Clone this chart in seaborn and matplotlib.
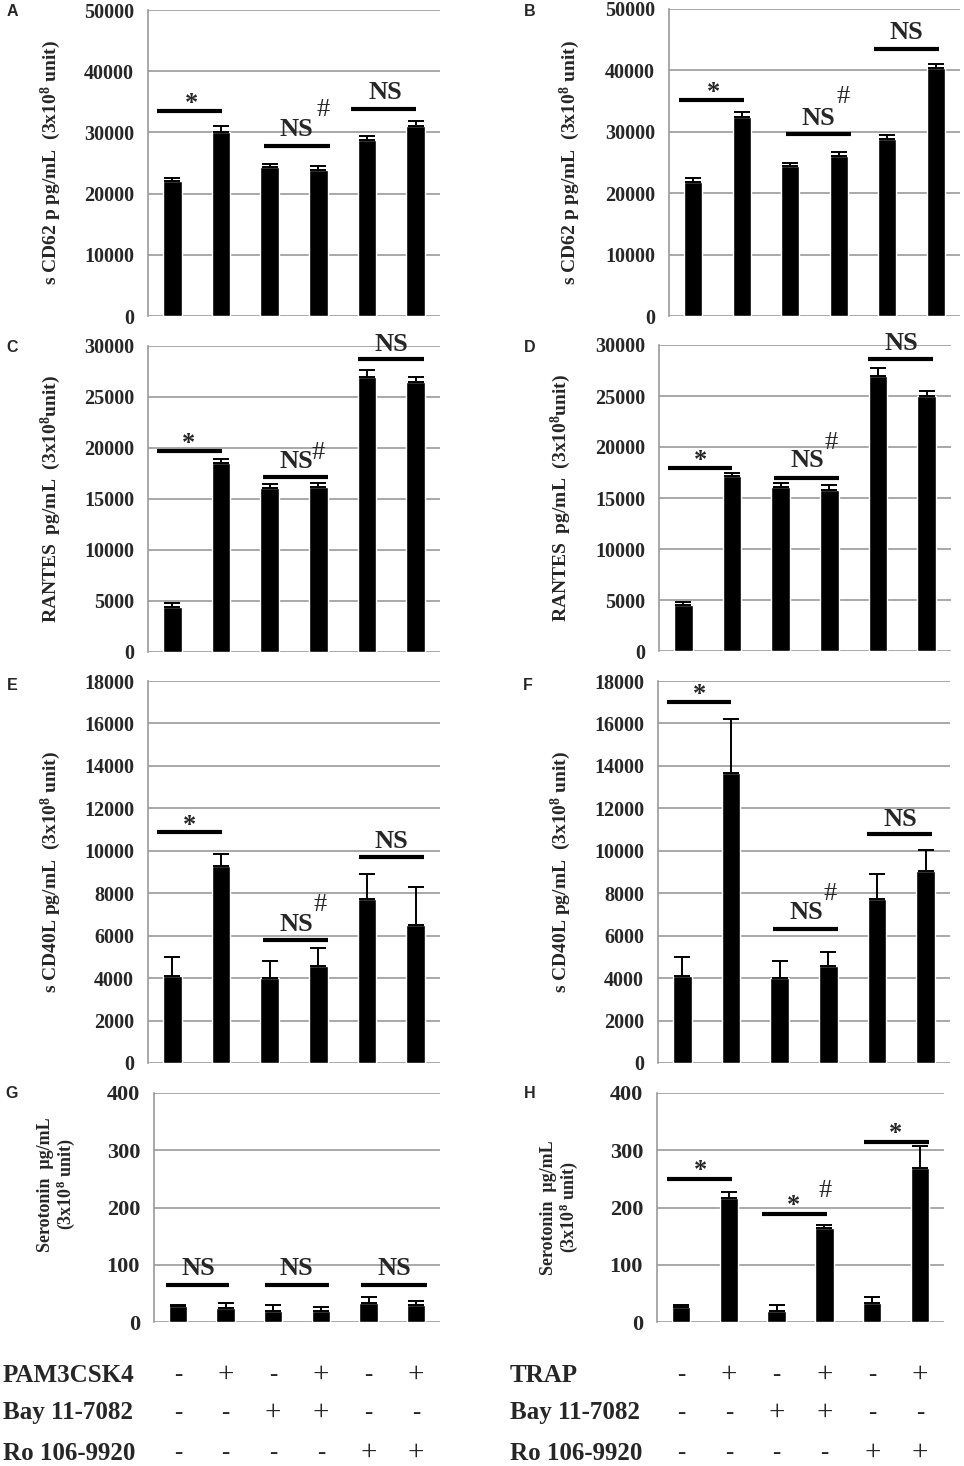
import numpy as np
import pandas as pd
import matplotlib
matplotlib.use('Agg')
import matplotlib.pyplot as plt
import matplotlib.transforms as mtransforms
import seaborn as sns

W, H = 964, 1466

conditions = ['c1', 'c2', 'c3', 'c4', 'c5', 'c6']

cd62_pam = [22000, 30100, 24400, 23900, 28800, 31100]
cd62_pam_err = [600, 900, 500, 600, 650, 700]
cd62_trap = [21900, 32400, 24400, 26000, 28800, 40400]
cd62_trap_err = [650, 900, 500, 750, 600, 650]
rantes_pam = [4450, 18500, 16100, 16200, 27000, 26500]
rantes_pam_err = [350, 450, 350, 400, 650, 500]
rantes_trap = [4500, 17200, 16100, 15800, 27000, 25000]
rantes_trap_err = [300, 250, 350, 450, 700, 500]
cd40l_pam = [4100, 9300, 4000, 4550, 7750, 6500]
cd40l_pam_err = [900, 550, 800, 850, 1150, 1800]
cd40l_trap = [4100, 13650, 4000, 4550, 7750, 9050]
cd40l_trap_err = [900, 2550, 800, 700, 1150, 1000]
sero_pam = [28, 25, 20, 20, 33, 30]
sero_pam_err = [2, 8, 9, 7, 10, 7]
sero_trap = [27, 217, 20, 165, 33, 269]
sero_trap_err = [2, 10, 9, 4, 11, 38]

# significance bars (x start, x end, y) and their labels (x, y, text)
sig_a = [(-0.32, 1.02, 33500), (1.88, 3.24, 27800), (3.67, 5.0, 33900)]
note_a = [(0.4, 35300, '*'), (2.55, 30400, 'NS'), (3.09, 33660, '#'), (4.37, 36600, 'NS')]
sig_b = [(-0.29, 1.05, 35100), (1.91, 3.25, 29600), (3.73, 5.07, 43500)]
note_b = [(0.41, 37000, '*'), (2.58, 32100, 'NS'), (3.1, 35700, '#'), (4.4, 46100, 'NS')]
sig_c = [(-0.32, 1.03, 19700), (1.87, 3.2, 17200), (3.82, 5.17, 28700)]
note_c = [(0.34, 20800, '*'), (2.55, 18660, 'NS'), (2.99, 19480, '#'), (4.5, 30100, 'NS')]
sig_d = [(-0.32, 1.01, 17900), (1.86, 3.2, 17000), (3.79, 5.13, 28600)]
note_d = [(0.36, 19100, '*'), (2.55, 18670, 'NS'), (3.03, 20350, '#'), (4.48, 30150, 'NS')]
sig_e = [(-0.31, 1.03, 10900), (1.87, 3.2, 5800), (3.83, 5.17, 9700)]
note_e = [(0.35, 11370, '*'), (2.54, 6510, 'NS'), (3.03, 7450, '#'), (4.5, 10430, 'NS')]
sig_f = [(-0.32, 1.01, 17000), (1.87, 3.2, 6300), (3.8, 5.14, 10800)]
note_f = [(0.36, 17560, '*'), (2.54, 7100, 'NS'), (3.03, 7980, '#'), (4.48, 11470, 'NS')]
sig_g = [(-0.25, 1.08, 64), (1.83, 3.18, 64), (3.85, 5.22, 64)]
note_g = [(0.43, 92.6, 'NS'), (2.49, 92.6, 'NS'), (4.55, 92.6, 'NS')]
sig_h = [(-0.29, 1.07, 250), (1.7, 3.06, 189), (3.82, 5.18, 315)]
note_h = [(0.41, 270.8, '*'), (2.36, 210.7, '*'), (3.02, 228, '#'), (4.49, 336, '*')]

label_cd62 = 's CD62 p pg/mL  (3x10$^8$ unit)'
label_rantes = 'RANTES  pg/mL  (3x10$^8$unit)'
label_cd40l = 's CD40L pg/mL  (3x10$^8$ unit)'
label_sero = 'Serotonin  \u03bcg/mL\n(3x10$^8$ unit)'

table_rows_left = ['PAM3CSK4', 'Bay 11-7082', 'Ro 106-9920']
table_rows_right = ['TRAP', 'Bay 11-7082', 'Ro 106-9920']
table_signs = [['-', '+', '-', '+', '-', '+'],
               ['-', '-', '+', '+', '-', '-'],
               ['-', '-', '-', '-', '+', '+']]

sns.set_style('white')
plt.rcParams['font.family'] = ['Liberation Serif', 'DejaVu Serif']
plt.rcParams['mathtext.fontset'] = 'custom'
plt.rcParams['mathtext.bf'] = 'Liberation Serif:bold'
plt.rcParams['mathtext.rm'] = 'Liberation Serif:bold'
plt.rcParams['mathtext.default'] = 'bf'

GRID = '#9a9a9a'

fig = plt.figure(figsize=(W / 100, H / 100), dpi=100)


def px_axes(left, top, right, bottom):
    return fig.add_axes([left / W, 1 - bottom / H, (right - left) / W, (bottom - top) / H])


def draw_panel(ax, vals, errs, ymax, ystep, ylabel, sigs, notes, lab_x, lab_y=0.5,
               lab_size=14, tick_size=14.5):
    df = pd.DataFrame({'cond': conditions, 'value': vals})
    sns.barplot(data=df, x='cond', y='value', color='black', saturation=1,
                width=0.38, errorbar=None, ax=ax, zorder=3)
    ax.errorbar(np.arange(len(vals)), vals, yerr=[np.zeros(len(vals)), errs],
                fmt='none', ecolor='black', elinewidth=1.4, capsize=6, capthick=1.4, zorder=4)
    ax.set_ylim(0, ymax)
    ax.set_xlim(-0.5, 5.5)
    ticks = np.arange(0, ymax + 1, ystep)
    ax.set_yticks(ticks)
    ax.set_yticklabels([f'{int(t)}' for t in ticks], fontsize=tick_size, fontweight='bold')
    ax.yaxis.grid(True, color=GRID, lw=1.2, zorder=0)
    ax.set_axisbelow(True)
    for s in ['top', 'right', 'bottom']:
        ax.spines[s].set_visible(False)
    ax.spines['left'].set_color(GRID)
    ax.spines['left'].set_linewidth(1.2)
    ax.tick_params(axis='y', length=7, width=1.2, color=GRID, pad=3)
    ax.tick_params(axis='x', bottom=False, labelbottom=False)
    ax.set_xlabel('')
    ax.set_ylabel(ylabel, fontsize=lab_size, fontweight='bold', linespacing=1.0)
    ax.yaxis.set_label_coords(lab_x, lab_y)
    for x0, x1, y in sigs:
        ax.plot([x0, x1], [y, y], color='black', lw=3, solid_capstyle='butt', clip_on=False, zorder=5)
    star_trans = mtransforms.offset_copy(ax.transData, fig=fig, x=0, y=-4, units='dots')
    for x, y, t in notes:
        if t == '#':
            ax.text(x, y, t, ha='center', va='center', fontsize=19, clip_on=False)
        elif t == '*':
            ax.text(x, y, t, ha='center', va='center', fontsize=19, fontweight='bold',
                    transform=star_trans, clip_on=False)
        else:
            ax.text(x, y, t, ha='center', va='center', fontsize=19, fontweight='bold', clip_on=False)


ax_a = px_axes(148, 10, 440, 316)
ax_b = px_axes(669, 9, 960, 316)
ax_c = px_axes(148, 346, 440, 652)
ax_d = px_axes(659, 345, 951, 651)
ax_e = px_axes(148, 681, 440, 1063)
ax_f = px_axes(658, 681, 950, 1063)
ax_g = px_axes(154, 1093, 440, 1322)
ax_h = px_axes(657, 1093, 944, 1322)

draw_panel(ax_a, cd62_pam, cd62_pam_err, 50000, 10000, label_cd62, sig_a, note_a, -0.29)
draw_panel(ax_b, cd62_trap, cd62_trap_err, 50000, 10000, label_cd62, sig_b, note_b, -0.30)
draw_panel(ax_c, rantes_pam, rantes_pam_err, 30000, 5000, label_rantes, sig_c, note_c, -0.29)
draw_panel(ax_d, rantes_trap, rantes_trap_err, 30000, 5000, label_rantes, sig_d, note_d, -0.295)
draw_panel(ax_e, cd40l_pam, cd40l_pam_err, 18000, 2000, label_cd40l, sig_e, note_e, -0.29)
draw_panel(ax_f, cd40l_trap, cd40l_trap_err, 18000, 2000, label_cd40l, sig_f, note_f, -0.29)
draw_panel(ax_g, sero_pam, sero_pam_err, 400, 100, label_sero, sig_g, note_g, -0.27, 0.6, 13, 16)
draw_panel(ax_h, sero_trap, sero_trap_err, 400, 100, label_sero, sig_h, note_h, -0.27, 0.5, 13, 16)

letters = [('A', 12, 12), ('B', 530, 12), ('C', 12, 347), ('D', 530, 348),
           ('E', 12, 685), ('F', 528, 685), ('G', 12, 1093), ('H', 530, 1093)]
for t, x, y in letters:
    fig.text(x / W, 1 - y / H, t, family='Liberation Sans', fontweight='bold',
             fontsize=11.5, ha='center', va='center')

row_y = [1375, 1413, 1453]
for ax, names, lx in [(ax_g, table_rows_left, 3), (ax_h, table_rows_right, 510)]:
    trans = mtransforms.blended_transform_factory(ax.transData, fig.transFigure)
    for r, name in enumerate(names):
        fig.text(lx / W, 1 - row_y[r] / H, name, fontsize=18, fontweight='bold',
                 ha='left', va='center')
        for i, s in enumerate(table_signs[r]):
            ax.text(i, 1 - row_y[r] / H, s, transform=trans, fontsize=21 if s == '+' else 18,
                    ha='center', va='center', clip_on=False)

fig.savefig('out.png', dpi=100)
